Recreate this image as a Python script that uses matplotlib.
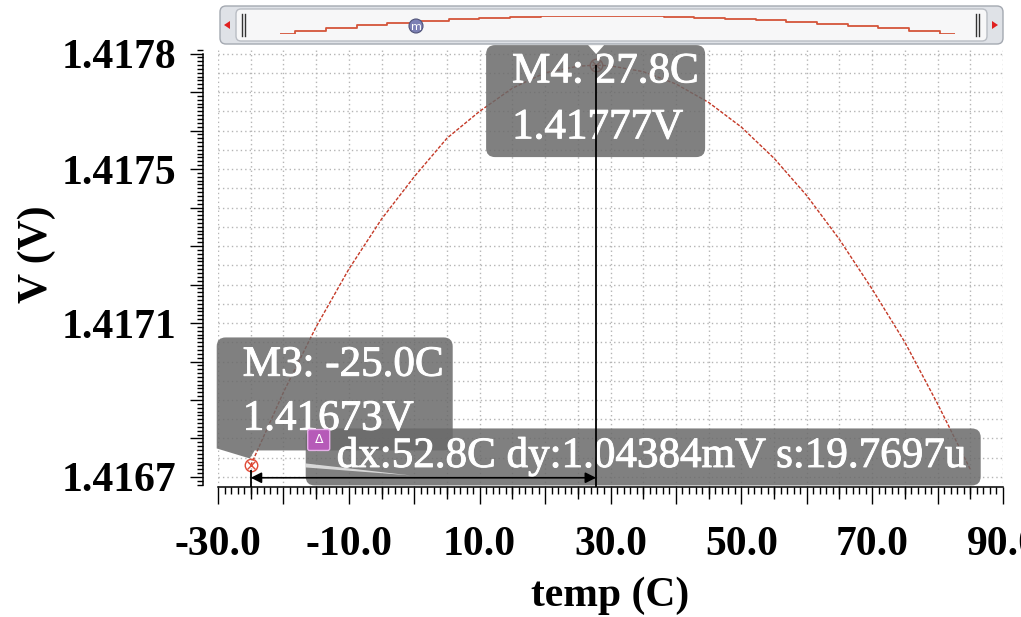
import numpy as np
import matplotlib
matplotlib.use("Agg")
import matplotlib.pyplot as plt
import matplotlib.transforms as mtransforms
import matplotlib.patheffects as pe
from matplotlib.patches import FancyBboxPatch, Polygon, Circle, PathPatch
from matplotlib.path import Path
from matplotlib.ticker import FixedLocator, MultipleLocator, FuncFormatter

# valeurs (temp en C, tension en V)
temp = [-25, -20, -15, -10, -5, 0, 5, 10, 15, 20, 25, 27.8, 30, 35, 40,
        45, 50, 55, 60, 65, 70, 75, 80, 85]
volt = [1.41673, 1.41692, 1.41709, 1.41724, 1.41737, 1.41748, 1.41758,
        1.41765, 1.41771, 1.41775, 1.417767, 1.41777, 1.417768, 1.417753,
        1.417721, 1.417673, 1.417609, 1.417528, 1.417431, 1.417317,
        1.417188, 1.41705, 1.41689, 1.41672]

m3 = (-25.0, 1.41673)
m4 = (27.8, 1.41777)
m3_txt = ["M3: -25.0C", "1.41673V"]
m4_txt = ["M4: 27.8C", "1.41777V"]
delta_txt = "dx:52.8C dy:1.04384mV s:19.7697u"

xlab_vals = [-30, -10, 10, 30, 50, 70, 90]
ylab_vals = [1.4167, 1.4171, 1.4175, 1.4178]

W, H = 1021, 617
SERIF = "Liberation Serif"
ROUGE = "#c43826"
EPAIS = [pe.withStroke(linewidth=0.7, foreground="white")]

fig = plt.figure(figsize=(W / 100, H / 100), dpi=100)
fig.patch.set_facecolor("white")
ax = fig.add_axes([218 / W, (H - 487) / H, 785 / W, 440 / H])
ax.set_xlim(-30, 90)
ax.set_ylim(1.416674, 1.417817)
ax.set_facecolor("white")

for s in ["top", "right"]:
    ax.spines[s].set_visible(False)
ax.spines["left"].set_position(("outward", 10.8))
ax.spines["left"].set_bounds(1.41668, 1.4178)
ax.spines["left"].set_linewidth(1.1)
ax.spines["bottom"].set_linewidth(1.1)

# grille pointillee
for g in np.arange(-30, 91, 5):
    ax.axvline(g, color="#b5b5b5", lw=1.0, ls=(0, (1, 2.2)), zorder=1)
for h in np.arange(1.4167, 1.41781, 0.00005):
    ax.axhline(h, color="#b5b5b5", lw=1.0, ls=(0, (1, 2.2)), zorder=1)

# graduations
ax.xaxis.set_major_locator(FixedLocator(list(range(-30, 91, 10))))
ax.xaxis.set_major_formatter(FuncFormatter(
    lambda v, p: "%.1f" % v if int(round(v)) in xlab_vals else ""))
ax.xaxis.set_minor_locator(MultipleLocator(1))
yt = [round(1.4167 + i * 0.0001, 4) for i in range(12)]
ax.yaxis.set_major_locator(FixedLocator(yt))
ax.yaxis.set_major_formatter(FuncFormatter(
    lambda v, p: "%.4f" % v if round(v, 4) in ylab_vals else ""))
ax.yaxis.set_minor_locator(MultipleLocator(0.00001))
ax.tick_params(axis="x", which="major", length=12, width=1, pad=16)
ax.tick_params(axis="x", which="minor", length=5, width=1)
ax.tick_params(axis="y", which="major", length=9.4, width=1, pad=10)
ax.tick_params(axis="y", which="minor", length=4.3, width=1)
for lab in ax.get_xticklabels() + ax.get_yticklabels():
    lab.set_fontfamily(SERIF)
    lab.set_fontweight("bold")
    lab.set_fontsize(30)

sec = ax.secondary_xaxis("bottom")
sec.set_xticks(list(range(-25, 90, 10)))
sec.set_xticklabels([])
sec.tick_params(length=8.5, width=1)
sec.spines["bottom"].set_visible(False)

ax.set_xlabel("temp (C)", fontfamily=SERIF, fontweight="bold", fontsize=30)
ax.set_ylabel("V (V)", fontfamily=SERIF, fontweight="bold", fontsize=30)
ax.xaxis.set_label_coords(0.499, -0.204)
ax.yaxis.set_label_coords(-0.207, 0.53)

# courbe
ax.plot(temp, volt, color=ROUGE, lw=1.0, ls=(0, (2.5, 1.2)), zorder=3)

# marqueurs
for (mx_, my_), col in [(m3, "#e04a36"), (m4, "#b03a2a")]:
    ax.plot(mx_, my_, marker="o", ms=9, mfc="none", mec=col, mew=1, zorder=4)
    ax.plot(mx_, my_, marker="x", ms=5.5, mec=col, mew=1, zorder=4)

# pixels, origine en haut a gauche
PX = mtransforms.Affine2D().scale(1, -1).translate(0, H)


def to_px(x, y):
    return PX.inverted().transform(ax.transData.transform((x, y)))


x3, y3 = to_px(*m3)
x4, y4 = to_px(*m4)
BOX_FC = "#6a6a6a"
BOX_A = 0.85


def boite(x, y, w, h, r=9, **kw):
    p = FancyBboxPatch((x, y), w, h, boxstyle="round,pad=0,rounding_size=%g" % r,
                       transform=PX, clip_on=False, **kw)
    ax.add_patch(p)
    return p


def etiquette(x, y, s):
    ax.text(x, y, s, transform=PX, color="white", fontfamily=SERIF,
            fontsize=31, va="center", ha="left", zorder=7, path_effects=EPAIS)


# boite M4
boite(x4 - 110, y4 - 20, 219, 112, fc=BOX_FC, ec="none", alpha=BOX_A, zorder=5)
ax.add_patch(Polygon([(x4 - 8, y4 - 20), (x4 + 8, y4 - 20), (x4, y4 - 11)],
                     closed=True, fc="white", ec="none", transform=PX,
                     clip_on=False, zorder=5))
etiquette(x4 - 84, y4 + 7, m4_txt[0])
etiquette(x4 - 84, y4 + 63, m4_txt[1])

# boite M3 avec pointe (un seul contour)
L, R, T, B, r = x3 - 34, x3 + 202, y3 - 128, y3 - 15, 9
verts = [(L + r, T), (R - r, T), (R, T), (R, T + r), (R, B - r), (R, B),
         (R - r, B), (x3 + 4, B), (x3 - 1, y3 - 7), (L, B - 2), (L, T + r),
         (L, T), (L + r, T), (L + r, T)]
codes = [Path.MOVETO, Path.LINETO, Path.CURVE3, Path.CURVE3, Path.LINETO,
         Path.CURVE3, Path.CURVE3, Path.LINETO, Path.LINETO, Path.LINETO,
         Path.LINETO, Path.CURVE3, Path.CURVE3, Path.CLOSEPOLY]
ax.add_patch(PathPatch(Path(verts, codes), fc=BOX_FC, ec="none", alpha=BOX_A,
                       transform=PX, clip_on=False, zorder=5))
etiquette(x3 - 8, y3 - 100, m3_txt[0])
etiquette(x3 - 8, y3 - 46, m3_txt[1])

# boite delta
boite(x3 + 55, y3 - 37, 675, 57, fc=BOX_FC, ec="none", alpha=BOX_A, zorder=5)
ax.add_patch(Polygon([(x3 + 55, y3 - 2), (x3 + 160, y3 + 10), (x3 + 55, y3 + 2)],
                     closed=True, fc="white", ec="none", alpha=0.7,
                     transform=PX, clip_on=False, zorder=5))
etiquette(x3 + 86, y3 - 9, delta_txt)
boite(x3 + 57, y3 - 36, 22, 21, r=2, fc="#b65ab8", ec="#e6b0e8", lw=1, zorder=8)
ax.text(x3 + 68, y3 - 25.5, "\u0394", transform=PX, color="white",
        fontsize=9, va="center", ha="center", zorder=9)

# lignes et fleche dx
ax.vlines(m4[0], ax.get_ylim()[0], m4[1], color="black", lw=1.3, zorder=8)
ax.vlines(m3[0], ax.get_ylim()[0], m3[1] - 0.000012, color="black", lw=1.3, zorder=8)
ya = 1.416698
ax.annotate("", xy=(m3[0], ya), xytext=(m4[0], ya),
            arrowprops=dict(arrowstyle="<|-|>", color="black", lw=1.2,
                            mutation_scale=16, shrinkA=0, shrinkB=0),
            zorder=8)

# barre de survol en haut
boite(220, 6, 783, 38, r=6, fc="#dfe2e7", ec="#a4a9b1", lw=1, zorder=5)
boite(236, 9, 751, 32, r=5, fc="#f7f7f8", ec="#b9bdc4", lw=1, zorder=5)
for xl in [242, 245, 976, 979]:
    ax.plot([xl, xl], [14, 36], color="#333333", lw=1, transform=PX,
            clip_on=False, zorder=6)
ax.add_patch(Polygon([(224, 25), (230, 21), (230, 29)], closed=True,
                     fc="#e02020", ec="none", transform=PX, clip_on=False, zorder=6))
ax.add_patch(Polygon([(998, 25), (992, 21), (992, 29)], closed=True,
                     fc="#e02020", ec="none", transform=PX, clip_on=False, zorder=6))

mini = fig.add_axes([280 / W, (H - 34) / H, 675 / W, 18 / H])
mini.plot(temp, volt, color="#d4553a", lw=1.3, drawstyle="steps-mid")
mini.set_xlim(min(temp), max(temp))
mini.set_ylim(min(volt), max(volt))
mini.axis("off")
mini.set_zorder(ax.get_zorder() + 1)

mini.add_patch(Circle((416, 26), 7, fc="#7c80b4", ec="#505379", lw=0.8,
                      transform=PX, clip_on=False, zorder=9))
mini.text(416, 26.5, "m", transform=PX, color="white", fontsize=8,
          ha="center", va="center", zorder=10)

fig.savefig("out.png", dpi=100)
